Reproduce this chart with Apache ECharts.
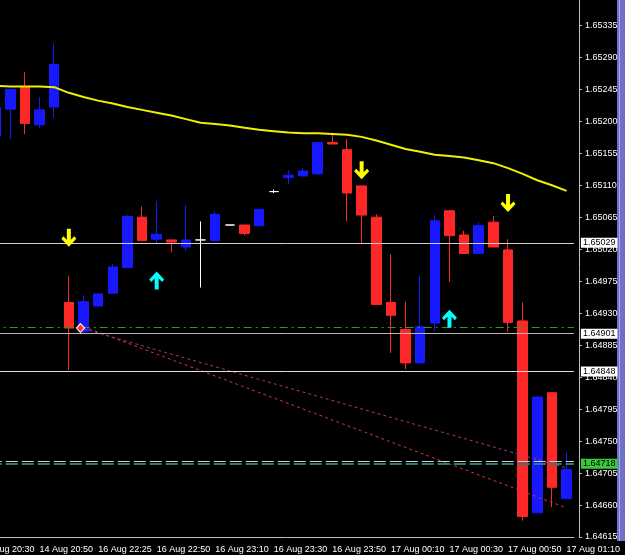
<!DOCTYPE html>
<html>
<head>
<meta charset="utf-8">
<script src="https://cdn.jsdelivr.net/npm/echarts@6/dist/echarts.min.js"></script>
<style>
  html, body { margin: 0; padding: 0; background: #000; }
  #chart { width: 625px; height: 555px; }
</style>
</head>
<body>
<div id="chart"></div>
<script>
// 5 minute bars, first slot (20:30) is off screen and empty
const times = [
  '14 Aug 20:30', '14 Aug 20:35', '14 Aug 20:40', '14 Aug 20:45', '14 Aug 20:50', '14 Aug 20:55',
  '16 Aug 22:15', '16 Aug 22:20', '16 Aug 22:25', '16 Aug 22:30', '16 Aug 22:35', '16 Aug 22:40',
  '16 Aug 22:50', '16 Aug 22:55', '16 Aug 23:00', '16 Aug 23:05', '16 Aug 23:10', '16 Aug 23:15',
  '16 Aug 23:20', '16 Aug 23:25', '16 Aug 23:30', '16 Aug 23:35', '16 Aug 23:40', '16 Aug 23:45',
  '16 Aug 23:50', '16 Aug 23:55', '17 Aug 00:00', '17 Aug 00:05', '17 Aug 00:10', '17 Aug 00:15',
  '17 Aug 00:20', '17 Aug 00:25', '17 Aug 00:30', '17 Aug 00:35', '17 Aug 00:40', '17 Aug 00:45',
  '17 Aug 00:50', '17 Aug 00:55', '17 Aug 01:00', '17 Aug 01:05', '17 Aug 01:10'
]
const opens = ['-',
  1.65179, 1.65217, 1.65248, 1.65195, 1.65220, 1.64945, 1.64904, 1.64940, 1.64958, 1.64994,
  1.65065, 1.65034, 1.65033, 1.65023, 1.65033, 1.65032, 1.65054, 1.65054, 1.65053, 1.65101,
  1.65121, 1.65123, 1.65126, 1.65170, 1.65160, 1.65109, 1.65065, 1.64945, 1.64907, 1.64860,
  1.64916, 1.65074, 1.65040, 1.65014, 1.65058, 1.65019, 1.64919, 1.64649, 1.64818, 1.64669]
const closes = ['-',
  1.65219, 1.65245, 1.65197, 1.65216, 1.65280, 1.64909, 1.64946, 1.64957, 1.64995, 1.65066,
  1.65032, 1.65041, 1.65030, 1.65033, 1.65033, 1.65069, 1.65054, 1.65042, 1.65076, 1.65101,
  1.65124, 1.65130, 1.65170, 1.65168, 1.65099, 1.65068, 1.64942, 1.64927, 1.64860, 1.64911,
  1.65060, 1.65039, 1.65014, 1.65053, 1.65023, 1.64917, 1.64644, 1.64812, 1.64685, 1.64710]
const lows = ['-',
  1.65174, 1.65175, 1.65182, 1.65190, 1.65205, 1.64850, 1.64902, 1.64940, 1.64958, 1.64994,
  1.65032, 1.65027, 1.65016, 1.65018, 1.64966, 1.65032, 1.65054, 1.65039, 1.65053, 1.65099,
  1.65112, 1.65123, 1.65124, 1.65168, 1.65059, 1.65028, 1.64942, 1.64874, 1.64851, 1.64860,
  1.64905, 1.64974, 1.65014, 1.65014, 1.65023, 1.64904, 1.64638, 1.64649, 1.64657, 1.64669]
const highs = ['-',
  1.65230, 1.65245, 1.65269, 1.65234, 1.65309, 1.64982, 1.64955, 1.64957, 1.64999, 1.65068,
  1.65080, 1.65088, 1.65033, 1.65082, 1.65059, 1.65073, 1.65054, 1.65054, 1.65076, 1.65104,
  1.65131, 1.65134, 1.65170, 1.65181, 1.65175, 1.65109, 1.65069, 1.65013, 1.64946, 1.64982,
  1.65068, 1.65074, 1.65046, 1.65058, 1.65067, 1.65034, 1.64945, 1.64812, 1.64818, 1.64735]
const maValues = ['-',
  1.65250, 1.65249, 1.65249, 1.65249, 1.65248, 1.65240, 1.65234, 1.65229, 1.65225, 1.65220,
  1.65216, 1.65212, 1.65208, 1.65203, 1.65198, 1.65196, 1.65194, 1.65191, 1.65188, 1.65186,
  1.65184, 1.65183, 1.65183, 1.65182, 1.65181, 1.65178, 1.65173, 1.65167, 1.65161, 1.65157,
  1.65153, 1.65151, 1.65149, 1.65145, 1.65141, 1.65134, 1.65126, 1.65117, 1.65110, 1.65102]

// horizontal levels and their price tags ('' = no tag)
const levelPrices = [1.65029, 1.64910, 1.64901, 1.64848, 1.64722, 1.64718]
const levelTags = ['1.65029', '', '1.64901', '1.64848', '', '1.64718']

const trendUpper = [[7, 1.64908], [40, 1.64712]]
const trendLower = [[7, 1.64911], [40, 1.64656]]
const sellArrows = [[6, 1.65036], [26, 1.65131], [36, 1.65085]]
const buyArrows = [[12, 1.64976], [32, 1.64922]]
const entryMark = [[7, 1.64909]]

const priceMin = 1.64615
const priceMax = 1.653706
const tickStep = 0.00045
const tickShift = 0.00005 // labels sit at 1.64615 + n*0.00045

const levelStyles = [
  { color: '#d0d0d0', type: 'solid', width: 1, tagBg: '#ffffff' },
  { color: '#2a9a2a', type: [8, 4, 2, 4], width: 1 },
  { color: '#b8b8b8', type: 'solid', width: 1, tagBg: '#ffffff' },
  { color: '#e0e0e0', type: 'solid', width: 1, tagBg: '#ffffff' },
  { color: '#d0d0d0', type: [12, 4], width: 1 },
  { color: '#1f8080', type: [12, 4], width: 2, tagBg: '#3cc83c' },
]

const downArrow = 'path://M5.5,0 L9.5,0 L9.5,11 L13,7.5 L15,10 L7.5,18 L0,10 L2,7.5 L5.5,11 Z'
const upArrow = 'path://M5.5,18 L9.5,18 L9.5,7 L13,10.5 L15,8 L7.5,0 L0,8 L2,10.5 L5.5,7 Z'
const font = 'Liberation Sans'

const chart = echarts.init(document.getElementById('chart'))
chart.setOption({
  backgroundColor: '#000000',
  animation: false,
  grid: { left: -26.3, right: 51.1, top: 0, bottom: 18, outerBoundsMode: 'none' },
  xAxis: {
    type: 'category',
    data: times,
    boundaryGap: true,
    axisLine: { lineStyle: { color: '#c0c0c0' } },
    axisTick: { alignWithLabel: true, interval: 3, length: 7, lineStyle: { color: '#c0c0c0' } },
    axisLabel: { interval: 3, align: 'left', margin: 8, color: '#ffffff', fontSize: 9, fontFamily: font },
    splitLine: { show: false },
  },
  yAxis: [
    { type: 'value', min: priceMin, max: priceMax, show: false, scale: true },
    {
      type: 'value',
      position: 'right',
      offset: 5,
      min: priceMin - tickShift,
      max: priceMax - tickShift,
      interval: tickStep,
      axisLine: { show: true, lineStyle: { color: '#c0c0c0' } },
      axisTick: { show: true, length: 3, lineStyle: { color: '#c0c0c0' } },
      axisLabel: {
        color: '#ffffff', fontSize: 9, fontFamily: font, margin: 6, showMaxLabel: false,
        formatter: v => (v + tickShift).toFixed(5),
      },
      splitLine: { show: false },
    },
  ],
  graphic: [
    { type: 'rect', right: 0, top: 0, shape: { width: 8, height: 541 }, style: { fill: '#7070c8' } },
    { type: 'rect', right: 5, top: 0, shape: { width: 1, height: 541 }, style: { fill: '#a8a8e8' } },
  ],
  series: [
    {
      type: 'candlestick',
      data: times.map((t, k) => [opens[k], closes[k], lows[k], highs[k]]),
      barWidth: 10,
      itemStyle: {
        color: '#1818ff', color0: '#ff2828',
        borderColor: '#1818ff', borderColor0: '#ff2828',
        borderColorDoji: '#ffffff', borderWidth: 1,
      },
    },
    {
      type: 'line',
      data: maValues,
      clip: false,
      symbol: 'none',
      lineStyle: { color: '#f0f000', width: 2 },
      markLine: {
        silent: true,
        precision: 5,
        symbol: ['none', 'none'],
        data: levelPrices.map((p, i) => ({
          yAxis: p,
          lineStyle: { color: levelStyles[i].color, type: levelStyles[i].type, width: levelStyles[i].width },
          label: levelTags[i] ? {
            show: true, position: 'end', distance: 7, formatter: levelTags[i],
            backgroundColor: levelStyles[i].tagBg, color: '#000000',
            fontSize: 9, fontFamily: font, padding: [1, 2, 0, 2],
          } : { show: false },
        })),
      },
    },
    {
      type: 'line', data: trendUpper, symbol: 'none',
      lineStyle: { color: '#b03088', width: 1, type: [3, 3] },
    },
    {
      type: 'line', data: trendLower, symbol: 'none',
      lineStyle: { color: '#d03050', width: 1, type: [3, 3] },
    },
    {
      type: 'scatter', data: sellArrows, symbol: downArrow, symbolSize: [15, 18],
      itemStyle: { color: '#ffff00', opacity: 1 }, z: 5,
    },
    {
      type: 'scatter', data: buyArrows, symbol: upArrow, symbolSize: [15, 18],
      itemStyle: { color: '#00ffff', opacity: 1 }, z: 5,
    },
    {
      type: 'scatter', data: entryMark, symbol: 'diamond', symbolSize: [8, 9], symbolOffset: [-3, 0],
      itemStyle: { color: '#ff3030', borderColor: '#ffffff', borderWidth: 1, opacity: 1 }, z: 5,
    },
  ],
})
</script>
</body>
</html>
